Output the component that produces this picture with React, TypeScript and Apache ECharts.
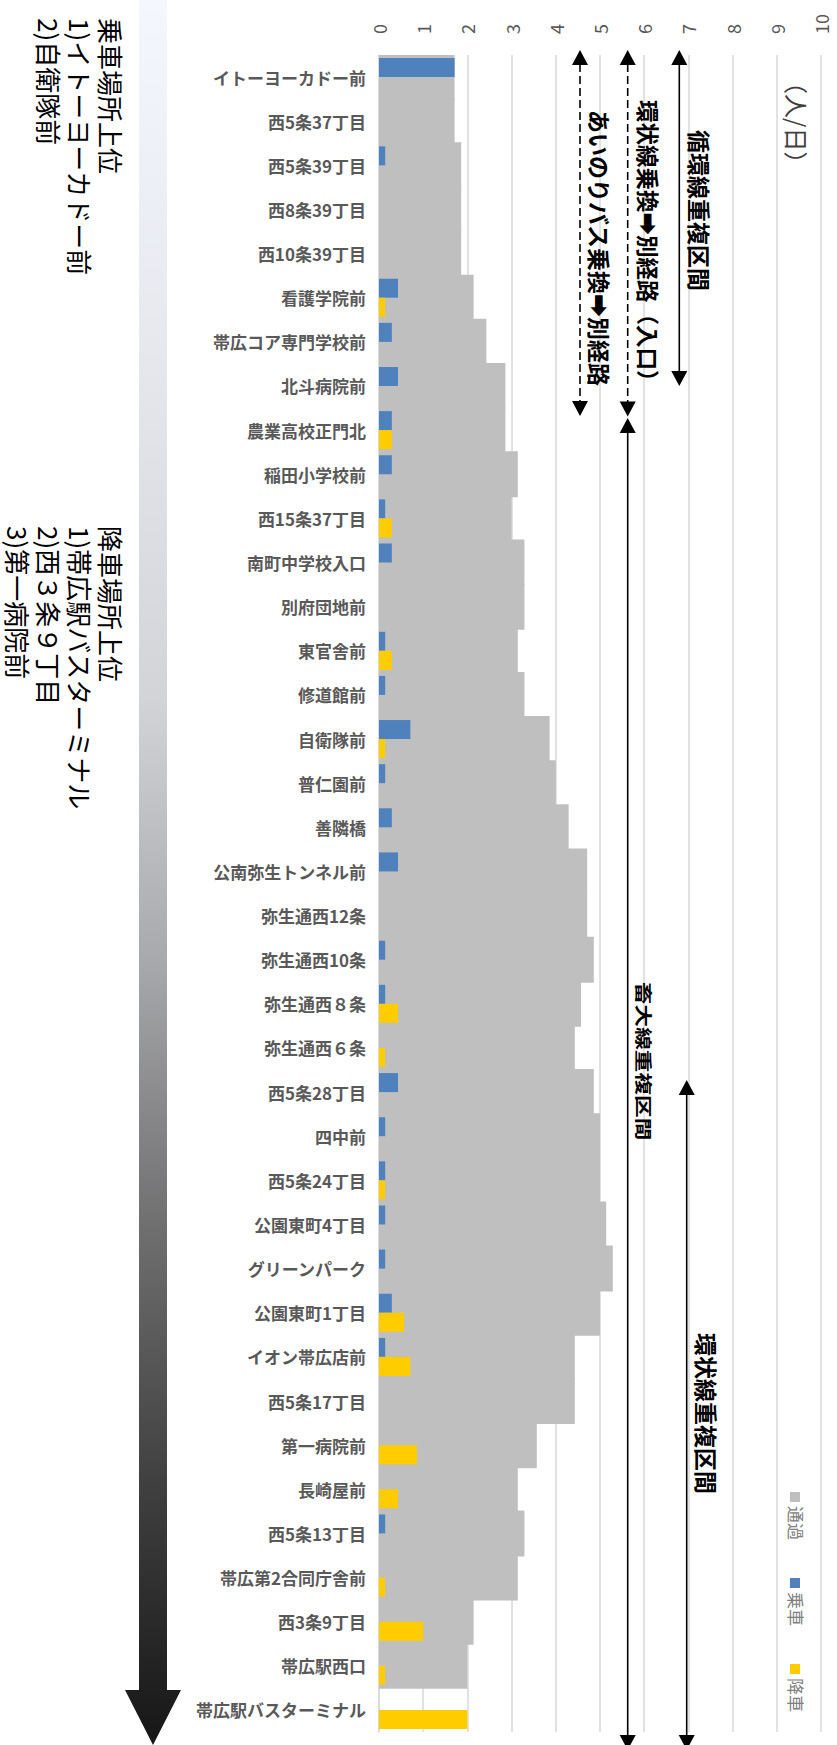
import React, { useEffect, useRef } from "react";
import * as echarts from "echarts";

const categories = [
  "イトーヨーカドー前", "西5条37丁目", "西5条39丁目", "西8条39丁目", "西10条39丁目",
  "看護学院前", "帯広コア専門学校前", "北斗病院前", "農業高校正門北", "稲田小学校前",
  "西15条37丁目", "南町中学校入口", "別府団地前", "東官舎前", "修道館前",
  "自衛隊前", "普仁園前", "善隣橋", "公南弥生トンネル前", "弥生通西12条",
  "弥生通西10条", "弥生通西８条", "弥生通西６条", "西5条28丁目", "四中前",
  "西5条24丁目", "公園東町4丁目", "グリーンパーク", "公園東町1丁目", "イオン帯広店前",
  "西5条17丁目", "第一病院前", "長崎屋前", "西5条13丁目", "帯広第2合同庁舎前",
  "西3条9丁目", "帯広駅西口", "帯広駅バスターミナル",
];

// 通過
const passing = [
  1.71, 1.71, 1.86, 1.86, 1.86, 2.14, 2.43, 2.86, 2.86, 3.14,
  3.0, 3.29, 3.29, 3.14, 3.29, 3.86, 4.0, 4.29, 4.71, 4.71,
  4.86, 4.57, 4.43, 4.86, 5.0, 5.0, 5.14, 5.29, 5.0, 4.43,
  4.43, 3.57, 3.14, 3.29, 3.14, 2.14, 2.0, 0,
];
// 乗車
const boarding = [
  1.71, 0, 0.14, 0, 0, 0.43, 0.29, 0.43, 0.29, 0.29,
  0.14, 0.29, 0, 0.14, 0.14, 0.71, 0.14, 0.29, 0.43, 0,
  0.14, 0.14, 0, 0.43, 0.14, 0.14, 0.14, 0.14, 0.29, 0.14,
  0, 0, 0, 0.14, 0, 0, 0, 0,
];
// 降車
const alighting = [
  0, 0, 0, 0, 0, 0.14, 0, 0, 0.29, 0,
  0.29, 0, 0, 0.29, 0, 0.14, 0, 0, 0, 0,
  0, 0.43, 0.14, 0, 0, 0.14, 0, 0, 0.57, 0.71,
  0, 0.86, 0.43, 0, 0.14, 1.0, 0.14, 2.0,
];

const seriesNames = ["通過", "乗車", "降車"];
const seriesColors = ["#bfbfbf", "#4f81bd", "#ffcc00"];

const boardingTop = ["乗車場所上位", "1)イトーヨーカドー前", "2)自衛隊前"];
const alightingTop = ["降車場所上位", "1)帯広駅バスターミナル", "2)西３条９丁目", "3)第一病院前"];

const FONT = '"Noto Sans CJK JP", "Noto Sans", sans-serif';

function vtext(x: number, y: number, text: string, size: number, opts: any = {}) {
  return {
    type: "text",
    x,
    y,
    rotation: -Math.PI / 2,
    scaleX: opts.scaleX ?? 1,
    z: 100,
    style: {
      text,
      fontSize: size,
      fontFamily: FONT,
      fontWeight: opts.bold ? "bold" : "normal",
      fill: opts.color ?? "#000",
      align: "left",
      verticalAlign: "middle",
    },
  };
}

function arrow(x: number, y1: number, y2: number, dashed: boolean, headTop = true, headBottom = true) {
  const hw = 8;
  const hh = 15;
  const els: any[] = [
    {
      type: "line",
      z: 100,
      shape: { x1: x, y1: y1 + (headTop ? hh - 1 : 0), x2: x, y2: y2 - (headBottom ? hh - 1 : 0) },
      style: { stroke: "#000", lineWidth: 1.6, lineDash: dashed ? [8, 4] : null },
    },
  ];
  if (headTop)
    els.push({
      type: "polygon",
      z: 100,
      shape: { points: [[x, y1], [x + hw, y1 + hh], [x - hw, y1 + hh]] },
      style: { fill: "#000" },
    });
  if (headBottom)
    els.push({
      type: "polygon",
      z: 100,
      shape: { points: [[x, y2], [x + hw, y2 - hh], [x - hw, y2 - hh]] },
      style: { fill: "#000" },
    });
  return els;
}

export default function App() {
  const ref = useRef<HTMLDivElement>(null);

  useEffect(() => {
    if (!ref.current) return;
    const chart = echarts.init(ref.current, undefined, { renderer: "svg" });

    const graphic: any[] = [];

    // gradient arrow on the left
    graphic.push({
      type: "polygon",
      z: 50,
      shape: {
        points: [
          [139, 0], [167, 0], [167, 1690], [181, 1690], [153, 1745], [125, 1690], [139, 1690],
        ],
      },
      style: {
        fill: new echarts.graphic.LinearGradient(0, 0, 0, 1, [
          { offset: 0, color: "#f4f7fe" },
          { offset: 0.2, color: "#e6e8ee" },
          { offset: 0.4, color: "#d3d4d8" },
          { offset: 0.55, color: "#a8a9ac" },
          { offset: 0.7, color: "#707071" },
          { offset: 0.85, color: "#404040" },
          { offset: 1, color: "#161616" },
        ]),
      },
    });

    // left annotations
    const colX = [111, 80, 49, 18];
    boardingTop.forEach((t, i) => graphic.push(vtext(colX[i], 18, t, 26)));
    alightingTop.forEach((t, i) => graphic.push(vtext(colX[i], 526, t, 26)));

    // arrows in plot
    graphic.push(...arrow(679.3, 50, 386, false));
    graphic.push(...arrow(627.7, 50, 416.5, true));
    graphic.push(...arrow(580, 50, 416, true));
    graphic.push(...arrow(627.7, 418, 1750, false));
    graphic.push(...arrow(686.7, 1080, 1750, false));

    graphic.push(vtext(700, 130, "循環線重複区間", 23, { bold: true }));
    graphic.push(vtext(649, 100, "環状線乗換➡別経路（入口）", 22.5, { bold: true }));
    graphic.push(vtext(600, 110, "あいのりバス乗換➡別経路", 23, { bold: true }));
    graphic.push(vtext(644, 982, "畜大線重複区間", 17, { bold: true, scaleX: 1.33 }));
    graphic.push(vtext(707, 1333, "環状線重複区間", 23, { bold: true }));

    // unit
    graphic.push(vtext(797, 70, "（人/日）", 24, { color: "#404040" }));

    // legend
    const legY = [1492, 1578, 1664];
    seriesNames.forEach((n, i) => {
      graphic.push({
        type: "rect",
        z: 100,
        shape: { x: 790, y: legY[i], width: 10, height: 10 },
        style: { fill: seriesColors[i] },
      });
      graphic.push(vtext(796, legY[i] + 14, n, 17, { color: "#808080" }));
    });

    chart.setOption({
      animation: false,
      grid: { left: 379, right: 16, top: 55, bottom: 13, containLabel: false },
      xAxis: {
        type: "value",
        position: "top",
        min: 0,
        max: 10,
        interval: 1,
        axisLine: { show: false },
        axisTick: { show: false },
        splitLine: { lineStyle: { color: "#d9d9d9", width: 1.5 } },
        axisLabel: { rotate: -90, margin: 21, color: "#595959", fontSize: 18, fontFamily: FONT },
      },
      yAxis: [
        {
          type: "category",
          data: categories,
          inverse: true,
          axisLine: { lineStyle: { color: "#d9d9d9", width: 1.5 } },
          axisTick: { length: 5, lineStyle: { color: "#d9d9d9", width: 1.5 } },
          axisLabel: {
            interval: 0,
            color: "#595959",
            fontWeight: "bold",
            fontSize: 17,
            fontFamily: FONT,
            margin: 13,
          },
        },
        { type: "category", data: categories, inverse: true, show: false },
      ],
      series: [
        {
          name: seriesNames[0],
          type: "bar",
          yAxisIndex: 1,
          data: passing,
          barWidth: 46,
          itemStyle: { color: seriesColors[0] },
          z: 2,
        },
        {
          name: seriesNames[1],
          type: "bar",
          yAxisIndex: 0,
          data: boarding,
          barWidth: 19,
          barGap: "0%",
          itemStyle: { color: seriesColors[1] },
          z: 3,
        },
        {
          name: seriesNames[2],
          type: "bar",
          yAxisIndex: 0,
          data: alighting,
          barWidth: 19,
          barGap: "0%",
          itemStyle: { color: seriesColors[2] },
          z: 3,
        },
      ],
      graphic,
    });

    return () => chart.dispose();
  }, []);

  return (
    <div
      ref={ref}
      style={{ position: "absolute", left: 0, top: 0, width: 837, height: 1745 }}
    />
  );
}
